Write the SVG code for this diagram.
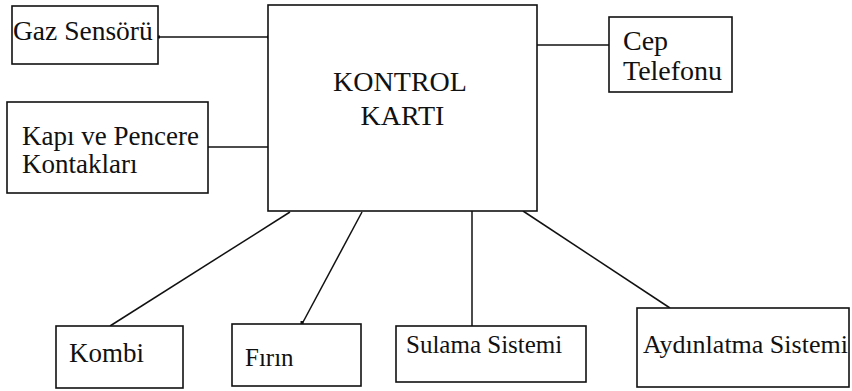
<svg xmlns="http://www.w3.org/2000/svg" width="852" height="391" viewBox="0 0 852 391">
<style>
.b{fill:#fff;stroke:#111;stroke-width:1.6}
.t{font-family:'Liberation Serif','Times New Roman',serif;font-size:26px;fill:#111}
.c{stroke:#111;stroke-width:1.5;fill:none}
.d{fill:#111}
</style>
<rect width="852" height="391" fill="#fff"/>
<g id="connectors">
<line class="c" x1="158" y1="37" x2="268" y2="37"/>
<line class="c" x1="208" y1="147" x2="268" y2="147"/>
<line class="c" x1="537" y1="45" x2="609" y2="45"/>
<line class="c" x1="290" y1="212" x2="110" y2="326"/>
<line class="c" x1="362" y1="212" x2="302" y2="324"/>
<line class="c" x1="472" y1="211" x2="472" y2="326"/>
<line class="c" x1="523" y1="211" x2="670" y2="308"/>
<rect class="d" x="157" y="35.5" width="3" height="3"/>
<rect class="d" x="267" y="35.5" width="4" height="3"/>
<rect class="d" x="300.5" y="321" width="3" height="4"/>
</g>
<g id="kontrol"><rect class="b" x="268" y="5" width="269" height="206"/>
<text class="t" style="font-size:28px" x="400" y="91" text-anchor="middle">KONTROL</text>
<text class="t" style="font-size:28px" x="402.5" y="125" text-anchor="middle">KARTI</text></g>
<g id="gaz"><rect class="b" x="12" y="6" width="146" height="58"/>
<text class="t" style="font-size:27.5px" x="13" y="40">Gaz Sensörü</text></g>
<g id="kapi"><rect class="b" x="7" y="102" width="201" height="91"/>
<text class="t" style="font-size:27px" x="22" y="145">Kapı ve Pencere</text>
<text class="t" style="font-size:27px" x="22" y="173">Kontakları</text></g>
<g id="cep"><rect class="b" x="609" y="17" width="123" height="75"/>
<text class="t" style="font-size:28px" x="623" y="50">Cep</text>
<text class="t" style="font-size:28px" x="623" y="80">Telefonu</text></g>
<g id="kombi"><rect class="b" x="56" y="326" width="127" height="62"/>
<text class="t" style="font-size:27px" x="69" y="362">Kombi</text></g>
<g id="firin"><rect class="b" x="232" y="324" width="129" height="62"/>
<text class="t" style="font-size:25px" x="245" y="366">Fırın</text></g>
<g id="sulama"><rect class="b" x="396" y="326" width="190" height="56"/>
<text class="t" style="font-size:25px" x="406" y="353">Sulama Sistemi</text></g>
<g id="aydinlatma"><rect class="b" x="637" y="308" width="212" height="79"/>
<text class="t" x="643" y="353">Aydınlatma Sistemi</text></g>
</svg>
